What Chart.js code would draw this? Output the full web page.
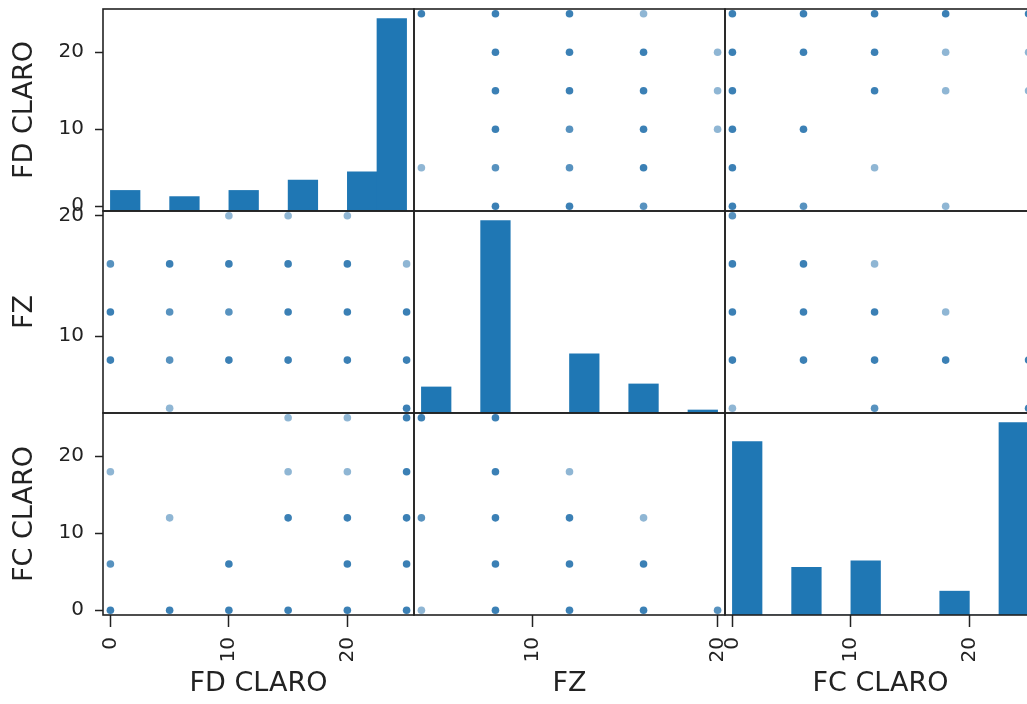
<!DOCTYPE html>
<html>
<head>
<meta charset="utf-8">
<script src="https://cdn.jsdelivr.net/npm/chart.js@4.4.1/dist/chart.umd.min.js"></script>
<style>
  html, body { margin: 0; padding: 0; background: #fff; overflow: hidden; }
  #wrap { width: 1040px; height: 704px; }
</style>
</head>
<body>
<div id="wrap"><canvas id="matrix" width="1040" height="704"></canvas></div>
<script>
// columns of the scatter matrix
const columns = ['FD CLARO', 'FZ', 'FC CLARO'];

// data range of each column (axis limits get pandas' 2.5% padding)
const fdRange = [0, 25];
const fzRange = [4, 20];
const fcRange = [0, 25];

// tick labels
const fdTicks = [0, 10, 20];
const fzTicks = [10, 20];
const fcTicks = [0, 10, 20];

// histogram counts, 10 bins over each range
const fdBinCounts = [20, 0, 14, 0, 20, 0, 30, 0, 38, 187];
const fzBinCounts = [26, 0, 192, 0, 0, 59, 0, 29, 0, 3];
const fcBinCounts = [109, 0, 30, 0, 34, 0, 0, 15, 0, 121];

// pairs seen in the scatter panels: [a, b, overlap]
const fdFz = [
  [0, 8, 3], [0, 12, 3], [0, 16, 2],
  [5, 4, 1], [5, 8, 2], [5, 12, 2], [5, 16, 3],
  [10, 8, 3], [10, 12, 2], [10, 16, 3], [10, 20, 1],
  [15, 8, 3], [15, 12, 3], [15, 16, 3], [15, 20, 1],
  [20, 8, 3], [20, 12, 3], [20, 16, 3], [20, 20, 1],
  [25, 4, 3], [25, 8, 3], [25, 12, 3], [25, 16, 1],
];
const fdFc = [
  [0, 0, 3], [0, 6, 2], [0, 18, 1],
  [5, 0, 3], [5, 12, 1],
  [10, 0, 3], [10, 6, 3],
  [15, 0, 3], [15, 12, 3], [15, 18, 1], [15, 25, 1],
  [20, 0, 3], [20, 6, 3], [20, 12, 3], [20, 18, 1], [20, 25, 1],
  [25, 0, 3], [25, 6, 3], [25, 12, 3], [25, 18, 3], [25, 25, 3],
];
const fzFc = [
  [4, 0, 1], [4, 12, 2], [4, 25, 3],
  [8, 0, 3], [8, 6, 3], [8, 12, 3], [8, 18, 3], [8, 25, 3],
  [12, 0, 3], [12, 6, 3], [12, 12, 3], [12, 18, 1],
  [16, 0, 3], [16, 6, 3], [16, 12, 1],
  [20, 0, 2],
];

const ink = '#222';
const tickFont = {family: 'DejaVu Sans', size: 20};
const titleFont = {family: 'DejaVu Sans', size: 27};

function limits(range) {
  const pad = (range[1] - range[0]) * 0.025;
  return [range[0] - pad, range[1] + pad];
}

function fixedTicks(values) {
  return scale => { scale.ticks = values.map(v => ({value: v})); };
}

function noPadding(s) {
  s.paddingTop = 0; s.paddingBottom = 0; s.paddingLeft = 0; s.paddingRight = 0;
}

function xAxis(name, range, ticks, weight) {
  const [min, max] = limits(range);
  return {
    type: 'linear', axis: 'x', position: 'bottom', stack: 'cols', weight, min, max, offset: false,
    afterBuildTicks: fixedTicks(ticks),
    afterFit: s => { s.height = 89; noPadding(s); },
    grid: {offset: false, drawOnChartArea: false, drawTicks: true, tickLength: 12, tickColor: ink, tickWidth: 1.5},
    border: {display: false},
    ticks: {font: tickFont, color: ink, padding: 10, minRotation: 90, maxRotation: 90, autoSkip: false, callback: v => v},
    title: {display: true, text: name, font: titleFont, color: ink, padding: {top: 5, bottom: 4}},
  };
}

function yAxis(name, range, ticks, weight) {
  const [min, max] = limits(range);
  return {
    type: 'linear', axis: 'y', position: 'left', stack: 'rows', weight, min, max,
    afterBuildTicks: fixedTicks(ticks),
    afterFit: s => { s.width = 103; noPadding(s); },
    grid: {drawOnChartArea: false, drawTicks: true, tickLength: 8, tickColor: ink, tickWidth: 1.5},
    border: {display: false},
    ticks: {font: tickFont, color: ink, padding: 11, autoSkip: false, callback: v => v},
    title: {display: true, text: name, font: titleFont, color: ink, padding: {top: 9, bottom: 10}},
  };
}

// hidden count axis for the histogram on the diagonal
function countAxis(counts, weight) {
  return {type: 'linear', axis: 'y', position: 'right', stack: 'rows', weight, display: false,
    min: 0, max: Math.max(...counts) * 1.05, afterFit: noPadding};
}

function hist(counts, range, xID, yID) {
  const w = (range[1] - range[0]) / counts.length;
  return {
    type: 'bar', xAxisID: xID, yAxisID: yID, grouped: false,
    data: counts.map((c, i) => ({x: range[0] + (i + 0.5) * w, y: c})),
    backgroundColor: '#1f77b4', borderWidth: 0,
    barPercentage: 1, categoryPercentage: 1,
  };
}

function pointColor(ctx) {
  const n = ctx.raw ? ctx.raw.n : 1;
  return 'rgba(31,110,170,' + (1 - Math.pow(0.5, n)).toFixed(3) + ')';
}

// swap = true puts the first value on y
function scatter(pairs, swap, xID, yID) {
  return {
    type: 'scatter', xAxisID: xID, yAxisID: yID, clip: 0,
    data: pairs.map(p => swap ? {x: p[1], y: p[0], n: p[2]} : {x: p[0], y: p[1], n: p[2]}),
    pointRadius: 3.8, pointBorderWidth: 0, pointBackgroundColor: pointColor,
  };
}

const panelFrames = {
  id: 'panelFrames',
  afterDatasetsDraw(chart) {
    const {ctx, scales} = chart;
    ctx.save();
    ctx.strokeStyle = ink;
    ctx.lineWidth = 1.6;
    for (const r of ['yFD', 'yFZ', 'yFC']) {
      for (const c of ['xFD', 'xFZ', 'xFC']) {
        const x = scales[c], y = scales[r];
        ctx.strokeRect(x.left, y.top, x.right - x.left, y.bottom - y.top);
      }
    }
    ctx.restore();
  }
};

new Chart(document.getElementById('matrix'), {
  type: 'scatter',
  data: {
    datasets: [
      hist(fdBinCounts, fdRange, 'xFD', 'cFD'),
      hist(fzBinCounts, fzRange, 'xFZ', 'cFZ'),
      hist(fcBinCounts, fcRange, 'xFC', 'cFC'),
      scatter(fdFz, true, 'xFZ', 'yFD'),
      scatter(fdFz, false, 'xFD', 'yFZ'),
      scatter(fdFc, true, 'xFC', 'yFD'),
      scatter(fdFc, false, 'xFD', 'yFC'),
      scatter(fzFc, true, 'xFC', 'yFZ'),
      scatter(fzFc, false, 'xFZ', 'yFC'),
    ]
  },
  options: {
    responsive: false,
    animation: false,
    events: [],
    layout: {padding: {top: 9, left: 0, right: 0, bottom: 0}},
    plugins: {legend: {display: false}, tooltip: {enabled: false}},
    scales: {
      xFD: xAxis(columns[0], fdRange, fdTicks, 1),
      xFZ: xAxis(columns[1], fzRange, fzTicks, 2),
      xFC: xAxis(columns[2], fcRange, fcTicks, 3),
      yFD: yAxis(columns[0], fdRange, fdTicks, 3),
      yFZ: yAxis(columns[1], fzRange, fzTicks, 2),
      yFC: yAxis(columns[2], fcRange, fcTicks, 1),
      cFD: countAxis(fdBinCounts, 1),
      cFZ: countAxis(fzBinCounts, 2),
      cFC: countAxis(fcBinCounts, 3),
    }
  },
  plugins: [panelFrames]
});
</script>
</body>
</html>
